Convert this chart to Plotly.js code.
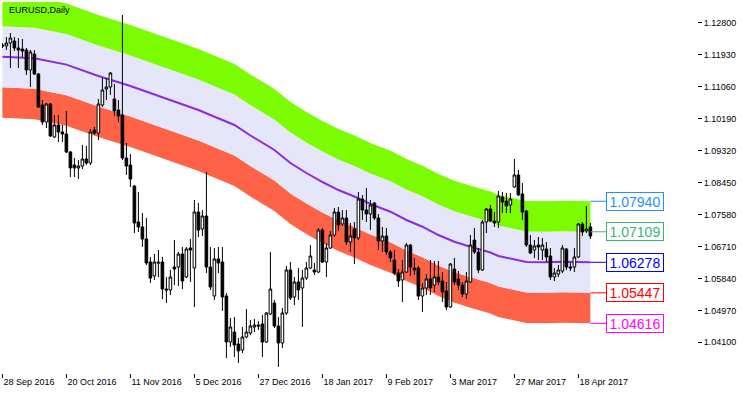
<!DOCTYPE html>
<html><head><meta charset="utf-8">
<script src="https://cdn.plot.ly/plotly-3.0.1.min.js"></script>
<style>html,body{margin:0;padding:0;background:#fff;}#chart{width:750px;height:394px;}</style>
</head><body><div id="chart"></div>
<script>
const dates = [
'2016-09-28','2016-09-29','2016-09-30',
'2016-10-03','2016-10-04','2016-10-05','2016-10-06','2016-10-07','2016-10-10','2016-10-11','2016-10-12','2016-10-13','2016-10-14','2016-10-17','2016-10-18','2016-10-19','2016-10-20','2016-10-21','2016-10-24','2016-10-25','2016-10-26','2016-10-27','2016-10-28','2016-10-31',
'2016-11-01','2016-11-02','2016-11-03','2016-11-04','2016-11-07','2016-11-08','2016-11-09','2016-11-10','2016-11-11','2016-11-14','2016-11-15','2016-11-16','2016-11-17','2016-11-18','2016-11-21','2016-11-22','2016-11-23','2016-11-24','2016-11-25','2016-11-28','2016-11-29','2016-11-30',
'2016-12-01','2016-12-02','2016-12-05','2016-12-06','2016-12-07','2016-12-08','2016-12-09','2016-12-12','2016-12-13','2016-12-14','2016-12-15','2016-12-16','2016-12-19','2016-12-20','2016-12-21','2016-12-22','2016-12-23','2016-12-26','2016-12-27','2016-12-28','2016-12-29','2016-12-30',
'2017-01-02','2017-01-03','2017-01-04','2017-01-05','2017-01-06','2017-01-09','2017-01-10','2017-01-11','2017-01-12','2017-01-13','2017-01-16','2017-01-17','2017-01-18','2017-01-19','2017-01-20','2017-01-23','2017-01-24','2017-01-25','2017-01-26','2017-01-27','2017-01-30','2017-01-31',
'2017-02-01','2017-02-02','2017-02-03','2017-02-06','2017-02-07','2017-02-08','2017-02-09','2017-02-10','2017-02-13','2017-02-14','2017-02-15','2017-02-16','2017-02-17','2017-02-20','2017-02-21','2017-02-22','2017-02-23','2017-02-24','2017-02-27','2017-02-28',
'2017-03-01','2017-03-02','2017-03-03','2017-03-06','2017-03-07','2017-03-08','2017-03-09','2017-03-10','2017-03-13','2017-03-14','2017-03-15','2017-03-16','2017-03-17','2017-03-20','2017-03-21','2017-03-22','2017-03-23','2017-03-24','2017-03-27','2017-03-28','2017-03-29','2017-03-30','2017-03-31',
'2017-04-03','2017-04-04','2017-04-05','2017-04-06','2017-04-07','2017-04-10','2017-04-11','2017-04-12','2017-04-13','2017-04-14','2017-04-17','2017-04-18','2017-04-19','2017-04-20','2017-04-21'
];

const open = [
1.12193,1.12166,1.12247,1.12302,1.12111,1.12084,1.12057,1.11513,1.11948,1.11404,
1.10560,1.10097,1.10587,1.09689,1.10016,1.09825,1.09770,1.09280,1.08927,1.08846,
1.08900,1.09090,1.08981,1.09879,1.09798,1.10560,1.10995,1.11050,1.10723,1.10424,
1.10288,1.09118,1.08927,1.08355,1.07375,1.07239,1.06912,1.06286,1.05906,1.06286,
1.06286,1.05551,1.05524,1.06150,1.06150,1.06504,1.05878,1.06667,1.06123,1.07647,
1.07185,1.07538,1.06150,1.05361,1.06368,1.06286,1.05361,1.04109,1.04381,1.04054,
1.03891,1.04245,1.04354,1.04517,1.04572,1.04599,1.04109,1.04871,1.05170,1.04545,
1.04082,1.04898,1.06069,1.05334,1.05742,1.05579,1.05851,1.06123,1.06069,1.06014,
1.07157,1.06286,1.06667,1.07021,1.07647,1.07321,1.07484,1.06831,1.07185,1.06940,
1.08001,1.07702,1.07593,1.07892,1.07484,1.06858,1.06994,1.06559,1.06341,1.05987,
1.05797,1.06014,1.06749,1.06123,1.06123,1.05361,1.05579,1.05824,1.05660,1.05878,
1.05769,1.05497,1.05062,1.06096,1.05824,1.05660,1.05416,1.05742,1.06885,1.06559,
1.06069,1.07375,1.07729,1.07402,1.07375,1.08055,1.07947,1.07838,1.08328,1.08655,
1.08137,1.07674,1.06749,1.06613,1.06749,1.06613,1.06640,1.06450,1.05878,1.05960,
1.06041,1.06640,1.06150,1.06150,1.06423,1.07321,1.07130,1.07239
];
const high = [
1.12247,1.12411,1.12520,1.12411,1.12384,1.12357,1.12111,1.12057,1.12057,1.11431,
1.10696,1.10614,1.10614,1.10288,1.10288,1.10016,1.10397,1.09308,1.09118,1.09063,
1.09471,1.09444,1.09907,1.09961,1.10723,1.11295,1.11295,1.11458,1.11132,1.10696,
1.13010,1.09526,1.09226,1.08382,1.08192,1.07620,1.07484,1.06423,1.06504,1.06613,
1.06423,1.05878,1.06069,1.06885,1.06559,1.06695,1.06695,1.06912,1.07974,1.07892,
1.07702,1.08736,1.06695,1.06667,1.06695,1.06695,1.05443,1.04762,1.04789,1.04218,
1.04517,1.05007,1.04708,1.04735,1.04680,1.04844,1.04926,1.06559,1.05252,1.04789,
1.05034,1.06178,1.06286,1.05878,1.06123,1.06069,1.06286,1.06749,1.06259,1.07212,
1.07212,1.06803,1.07130,1.07756,1.07783,1.07702,1.07702,1.07348,1.07375,1.08192,
1.08110,1.08301,1.07974,1.07920,1.07593,1.07239,1.07212,1.06613,1.06613,1.06096,
1.06341,1.06803,1.06776,1.06395,1.06178,1.05715,1.05960,1.06341,1.06314,1.06314,
1.06014,1.05742,1.06259,1.06395,1.06041,1.05742,1.06014,1.07021,1.07212,1.06667,
1.07430,1.07756,1.07838,1.07647,1.08219,1.08192,1.08164,1.08164,1.09090,1.08791,
1.08437,1.07702,1.07021,1.06885,1.06967,1.06940,1.06831,1.06667,1.06123,1.06205,
1.06749,1.06667,1.06259,1.06667,1.07348,1.07375,1.07811,1.07348
];
const low = [
1.12111,1.12057,1.11567,1.12030,1.11567,1.11867,1.11377,1.11050,1.11377,1.10478,
1.10016,1.09934,1.09689,1.09662,1.09552,1.09552,1.09253,1.08600,1.08600,1.08546,
1.08818,1.08927,1.08927,1.09743,1.09607,1.10505,1.10696,1.10832,1.10261,1.10097,
1.09063,1.08655,1.08328,1.07076,1.07103,1.06695,1.06205,1.05715,1.05797,1.05878,
1.05279,1.05170,1.05388,1.05660,1.05633,1.05551,1.05851,1.05742,1.05062,1.06967,
1.06994,1.05987,1.05524,1.05252,1.05987,1.04953,1.03673,1.03973,1.03700,1.03537,
1.03809,1.04218,1.04299,1.04381,1.04436,1.03700,1.04082,1.04844,1.04490,1.03428,
1.03946,1.04844,1.05252,1.05116,1.05252,1.04517,1.05797,1.06096,1.05933,1.05987,
1.06259,1.05878,1.06640,1.06967,1.07130,1.07266,1.06749,1.06559,1.06232,1.06885,
1.07430,1.07375,1.07157,1.07430,1.06613,1.06559,1.06477,1.06286,1.05933,1.05606,
1.05198,1.05987,1.05906,1.05933,1.05252,1.04926,1.05388,1.05388,1.05470,1.05660,
1.05198,1.04980,1.05034,1.05660,1.05524,1.05334,1.05279,1.05715,1.06504,1.05987,
1.06041,1.07076,1.07375,1.07239,1.07212,1.07620,1.07620,1.07620,1.08301,1.08083,
1.07430,1.06695,1.06504,1.06395,1.06341,1.06341,1.06286,1.05797,1.05769,1.05878,
1.05987,1.06069,1.06041,1.06014,1.06395,1.06994,1.07076,1.06912
];
const close = [
1.12166,1.12247,1.12384,1.12111,1.12057,1.12030,1.11513,1.12003,1.11404,1.10505,
1.10097,1.10587,1.09716,1.10016,1.09825,1.09770,1.09280,1.08846,1.08846,1.08900,
1.09090,1.08981,1.09825,1.09798,1.10587,1.10968,1.11050,1.11431,1.10397,1.10261,
1.09118,1.08900,1.08546,1.07348,1.07239,1.06912,1.06259,1.05851,1.06286,1.06259,
1.05551,1.05524,1.05878,1.06096,1.06504,1.05769,1.06640,1.06613,1.07647,1.07157,
1.07538,1.06150,1.05606,1.06368,1.06259,1.05334,1.04109,1.04517,1.04027,1.03864,
1.04245,1.04381,1.04545,1.04572,1.04545,1.04109,1.04898,1.05551,1.04545,1.04082,
1.04898,1.06069,1.05306,1.05742,1.05524,1.05851,1.06123,1.06450,1.06014,1.07157,
1.06286,1.06667,1.07021,1.07647,1.07293,1.07484,1.06831,1.06994,1.06940,1.08001,
1.07702,1.07593,1.07838,1.07484,1.06858,1.06994,1.06559,1.06395,1.05987,1.05769,
1.06014,1.06749,1.06150,1.06069,1.05361,1.05579,1.05824,1.05579,1.05878,1.05742,
1.05470,1.05062,1.06232,1.05742,1.05660,1.05416,1.05769,1.06749,1.06559,1.06069,
1.07375,1.07729,1.07402,1.07348,1.08083,1.07920,1.07811,1.08001,1.08655,1.08110,
1.07647,1.06749,1.06531,1.06722,1.06695,1.06749,1.06423,1.05878,1.05987,1.06069,
1.06667,1.06150,1.06123,1.06423,1.07321,1.07103,1.07185,1.06994
];

// middle line of the envelope, read at sample bars
const midDates = ['2016-09-28','2016-10-10','2016-10-20','2016-11-01','2016-11-11','2016-11-24','2016-12-06','2016-12-19','2016-12-23','2017-01-02','2017-01-06','2017-01-12','2017-01-18','2017-01-24','2017-01-30','2017-02-03','2017-02-10','2017-02-16','2017-02-22','2017-02-28','2017-03-06','2017-03-10','2017-03-17','2017-03-21','2017-03-27','2017-03-30','2017-04-06','2017-04-12','2017-04-21'];
const midValues = [1.11875,1.11831,1.11660,1.11349,1.11077,1.10742,1.10424,1.10016,1.09730,1.09335,1.08981,1.08709,1.08464,1.08246,1.08069,1.07865,1.07655,1.07430,1.07247,1.07021,1.06839,1.06702,1.06545,1.06450,1.06368,1.06286,1.06278,1.06294,1.06278];
const bandStep = 0.00831;

const levelValues = [1.07940, 1.07109, 1.06278, 1.05447, 1.04616];
const levelColors = ['#1E90FF', '#3CB371', '#0000FF', '#FF0000', '#FF00FF'];

const tickDates = ['2016-09-28','2016-10-20','2016-11-11','2016-12-05','2016-12-27','2017-01-18','2017-02-09','2017-03-03','2017-03-27','2017-04-18'];
const tickLabels = ['28 Sep 2016','20 Oct 2016','11 Nov 2016','5 Dec 2016','27 Dec 2016','18 Jan 2017','9 Feb 2017','3 Mar 2017','27 Mar 2017','18 Apr 2017'];
const yTicks = [1.128, 1.1193, 1.1106, 1.1019, 1.0932, 1.0845, 1.0758, 1.0671, 1.0584, 1.0497, 1.041];

const FONT = "Tahoma, 'Liberation Sans', Arial, sans-serif";
const band = m => midValues.map(v => v + m * bandStep);

const traces = [
  {type:'scatter', mode:'lines', x:midDates, y:band(-2), line:{width:0, color:'#FF6347'}, hoverinfo:'skip', zorder:-1},
  {type:'scatter', mode:'lines', x:midDates, y:band(-1), fill:'tonexty', fillcolor:'#FF6347', line:{width:0, color:'#FF6347'}, hoverinfo:'skip', zorder:-1},
  {type:'scatter', mode:'lines', x:midDates, y:band(1), fill:'tonexty', fillcolor:'#E6E6FA', line:{width:0, color:'#E6E6FA'}, hoverinfo:'skip', zorder:-1},
  {type:'scatter', mode:'lines', x:midDates, y:band(2), fill:'tonexty', fillcolor:'#7CFC00', line:{width:0, color:'#7CFC00'}, hoverinfo:'skip', zorder:-1},
  {type:'scatter', mode:'lines', x:midDates, y:midValues, line:{width:2, color:'#8A2BE2'}, hoverinfo:'skip', zorder:-1},
  {type:'candlestick', x:dates, open:open, high:high, low:low, close:close,
   increasing:{line:{color:'#000000', width:1}, fillcolor:'#FFFFFF'},
   decreasing:{line:{color:'#000000', width:1}, fillcolor:'#000000'},
   whiskerwidth:0, hoverinfo:'skip', zorder:1}
];

const annotations = [
  {xref:'paper', yref:'paper', x:0.0068, y:0.978, xanchor:'left', yanchor:'middle',
   text:'EURUSD,Daily', showarrow:false, font:{family:FONT, size:9, color:'#000'}}
];
levelValues.forEach((v, k) => {
  annotations.push({
    xref:'x', yref:'y', x:dates.length - 1, y:v,
    text:v.toFixed(5), showarrow:true, arrowhead:0, arrowwidth:1, arrowcolor:levelColors[k],
    axref:'pixel', ayref:'pixel', ax:45, ay:0, standoff:0,
    bordercolor:levelColors[k], borderwidth:1, borderpad:1, bgcolor:'#FFFFFF',
    width:54, height:15, align:'center', valign:'middle',
    font:{family:FONT, size:14, color:levelColors[k]}
  });
});

const layout = {
  width:750, height:394,
  margin:{l:2, r:53, t:2, b:21, pad:0},
  paper_bgcolor:'#FFFFFF', plot_bgcolor:'#FFFFFF',
  showlegend:false, hovermode:false,
  boxgap:0.35, boxgroupgap:0,
  font:{family:FONT, size:9, color:'#000'},
  xaxis:{type:'category', categoryorder:'array', categoryarray:dates,
    range:[-0.1, 173.65], tickmode:'array', tickvals:tickDates, ticktext:tickLabels,
    ticks:'outside', ticklen:4, tickcolor:'#000', tickwidth:1,
    ticklabelposition:'outside right',
    showline:true, mirror:true, linecolor:'#000', linewidth:1,
    showgrid:false, zeroline:false, rangeslider:{visible:false}, fixedrange:true,
    tickfont:{family:FONT, size:9, color:'#000'}},
  yaxis:{side:'right', range:[1.03265, 1.13364], tickmode:'array', tickvals:yTicks,
    tickformat:'.5f', ticks:'outside', ticklen:4, tickcolor:'#000', tickwidth:1,
    showline:true, mirror:true, linecolor:'#000', linewidth:1,
    showgrid:false, zeroline:false, fixedrange:true,
    tickfont:{family:FONT, size:9, color:'#000'}},
  annotations:annotations
};

Plotly.newPlot('chart', traces, layout, {staticPlot:true, displayModeBar:false});
</script></body></html>
